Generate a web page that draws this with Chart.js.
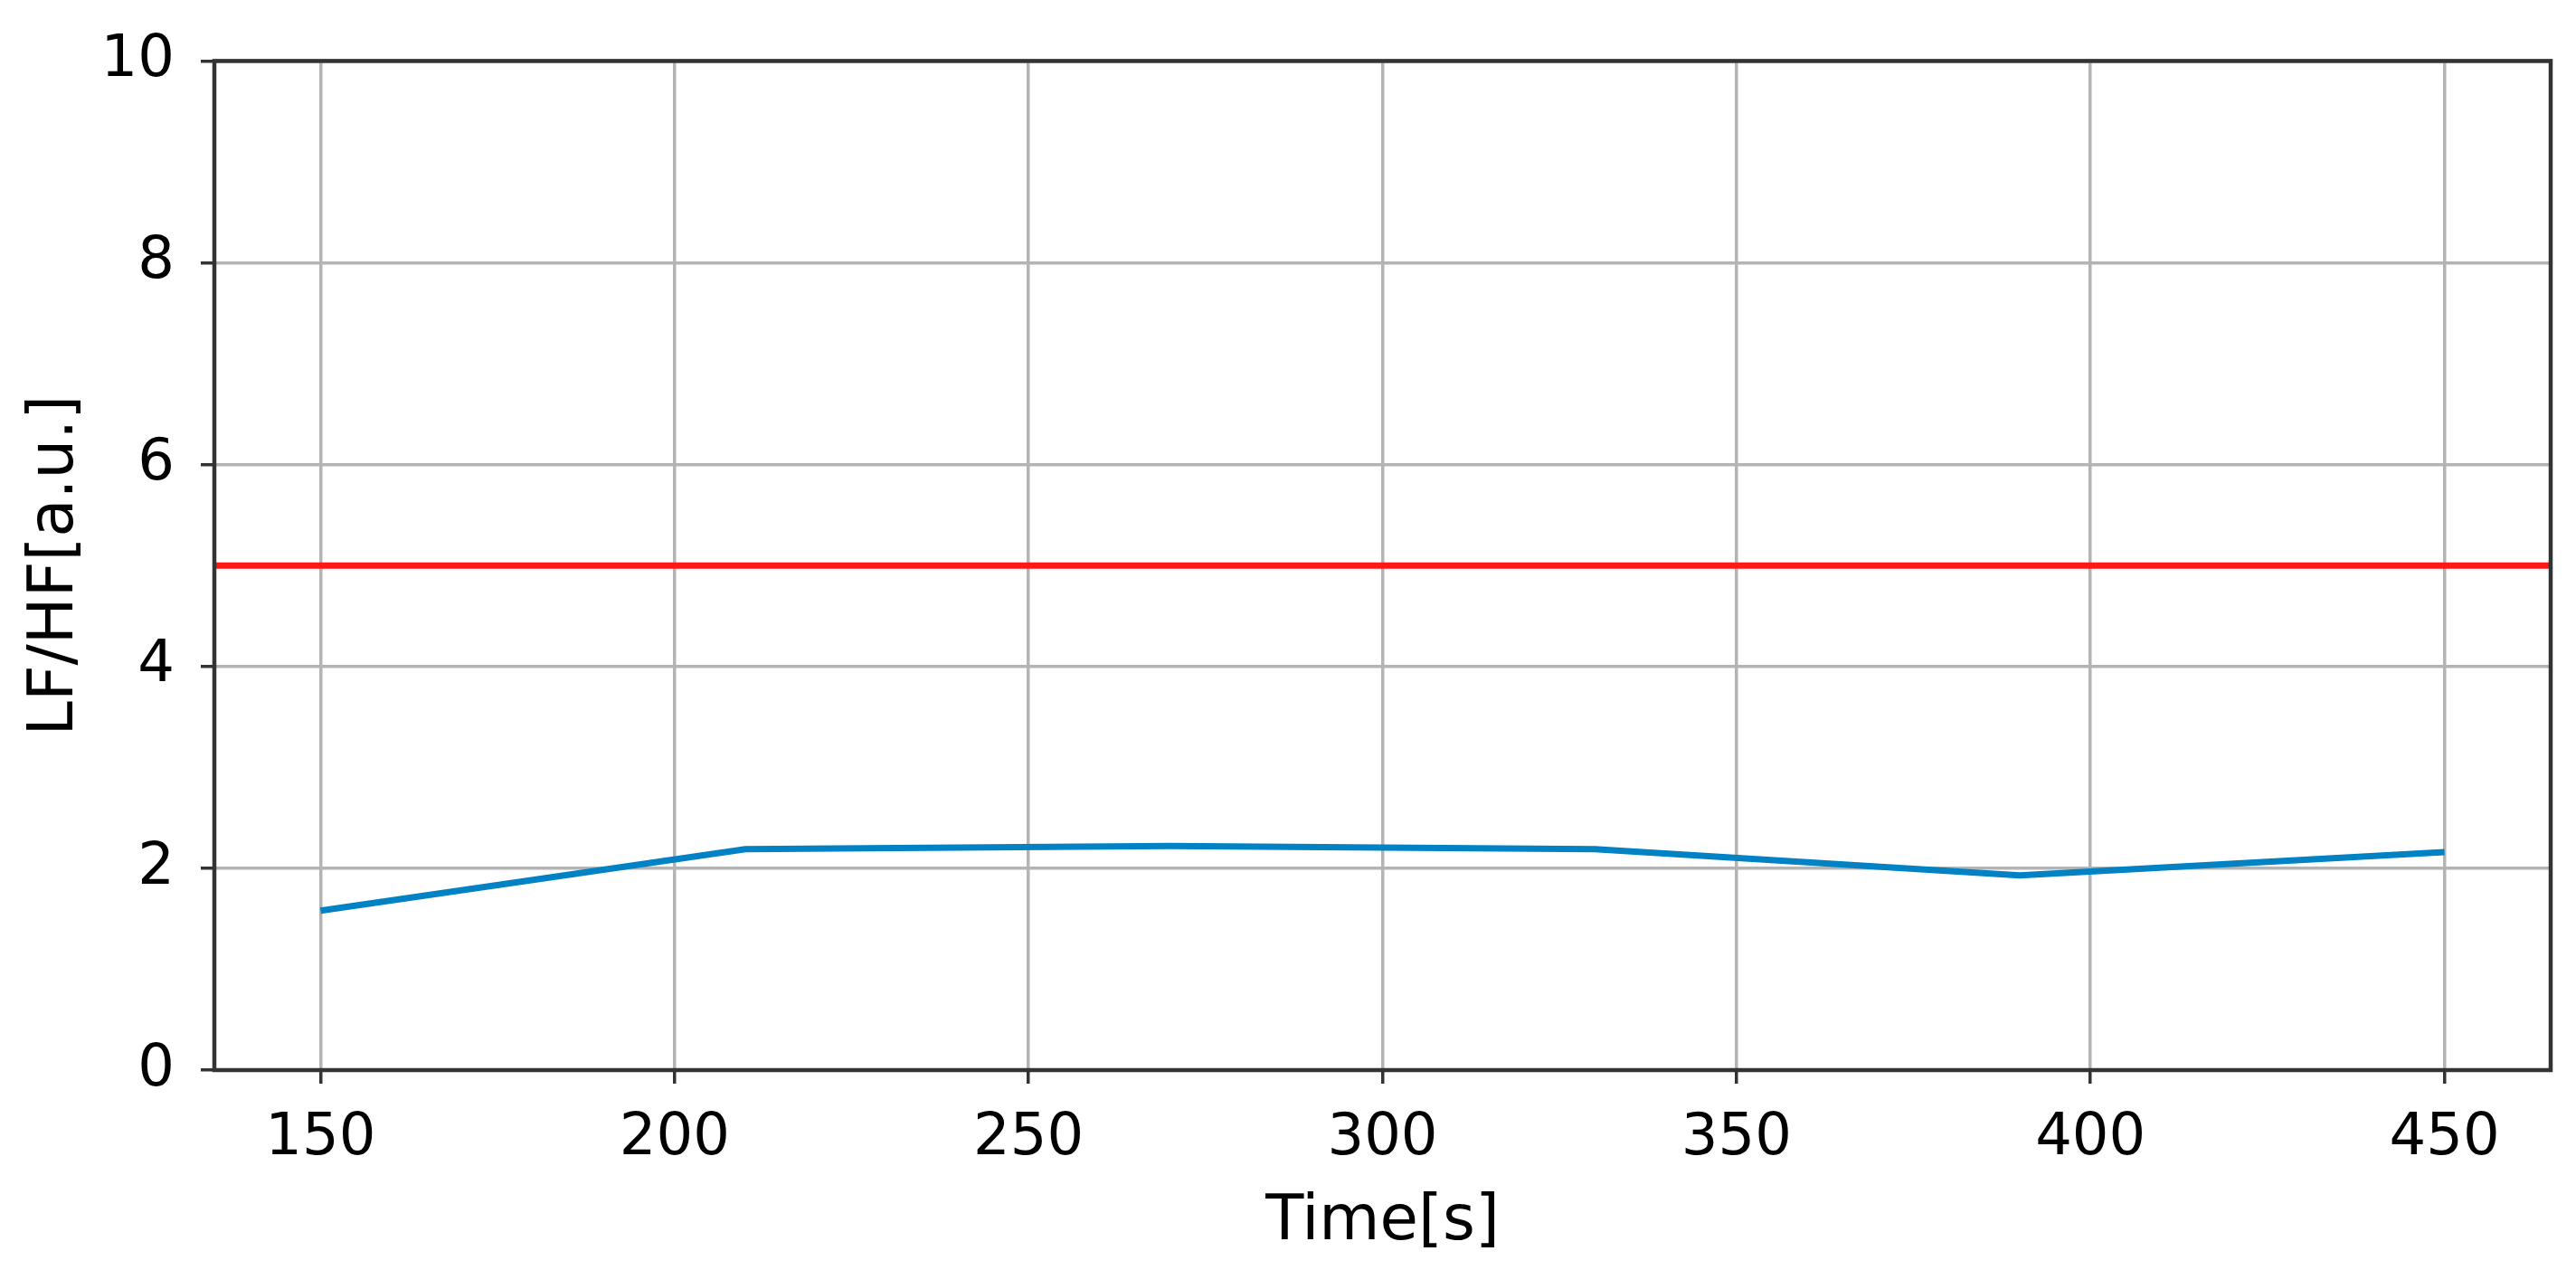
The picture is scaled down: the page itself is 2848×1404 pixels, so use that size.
<!DOCTYPE html>
<html>
<head>
<meta charset="utf-8">
<script src="https://cdn.jsdelivr.net/npm/chart.js@4.4.1/dist/chart.umd.min.js"></script>
<style>
  html, body { margin: 0; padding: 0; background: #fff; }
  #wrap { width: 2848px; height: 1404px; }
</style>
</head>
<body>
<div id="wrap"><canvas id="myChart" width="2848" height="1404"></canvas></div>
<script>
// data
const times = [150, 210, 270, 330, 390, 450];
const lfhf = [1.58, 2.19, 2.22, 2.19, 1.93, 2.16];
const threshold = 5;
const xTicks = [150, 200, 250, 300, 350, 400, 450];
const yTicks = [0, 2, 4, 6, 8, 10];
const xMin = 135, xMax = 465;
const yMin = 0, yMax = 10;

const FONT = 'DejaVu Sans';

const frame = {
  id: 'frame',
  afterDatasetsDraw: (chart) => {
    const {top, left, width, height} = chart.chartArea;
    const ctx = chart.ctx;
    ctx.save();
    ctx.strokeStyle = '#333';
    ctx.lineWidth = 4.5;
    ctx.strokeRect(left, top, width, height);
    ctx.restore();
  }
};

const ctx = document.getElementById('myChart').getContext('2d');

const config = {
  type: 'line',
  data: {
    datasets: [
      {
        data: times.map((t, i) => ({x: t, y: lfhf[i]})),
        borderColor: 'rgb(0, 130, 196)',
        borderWidth: 7,
        pointRadius: 0,
        tension: 0,
        fill: false
      },
      {
        data: [{x: xMin, y: threshold}, {x: xMax, y: threshold}],
        borderColor: 'rgb(255, 24, 24)',
        borderWidth: 7,
        pointRadius: 0,
        fill: false
      }
    ]
  },
  options: {
    responsive: false,
    animation: false,
    layout: { padding: { top: 65, right: 28, left: 0, bottom: 0 } },
    plugins: {
      legend: { display: false },
      tooltip: { enabled: false }
    },
    scales: {
      x: {
        type: 'linear',
        min: xMin,
        max: xMax,
        afterBuildTicks: (scale) => { scale.ticks = xTicks.map(v => ({value: v})); },
        afterFit: (scale) => { scale.height = 221; },
        grid: { color: '#b4b4b4', lineWidth: 3.5, tickColor: '#333', tickLength: 15, tickWidth: 3.5 },
        border: { display: false },
        ticks: { color: '#000', padding: 23, maxRotation: 0, font: { family: FONT, size: 64 } },
        title: { display: true, text: 'Time[s]', color: '#000', padding: 11, font: { family: FONT, size: 69 } }
      },
      y: {
        min: yMin,
        max: yMax,
        afterBuildTicks: (scale) => { scale.ticks = yTicks.map(v => ({value: v})); },
        afterFit: (scale) => { scale.width = 237; },
        grid: { color: '#b4b4b4', lineWidth: 3.5, tickColor: '#333', tickLength: 15, tickWidth: 3.5 },
        border: { display: false },
        ticks: { color: '#000', padding: 29, font: { family: FONT, size: 64 } },
        title: { display: true, text: 'LF/HF[a.u.]', color: '#000', padding: 21, font: { family: FONT, size: 69 } }
      }
    }
  },
  plugins: [frame]
};

const myChart = new Chart(ctx, config);
</script>
</body>
</html>
